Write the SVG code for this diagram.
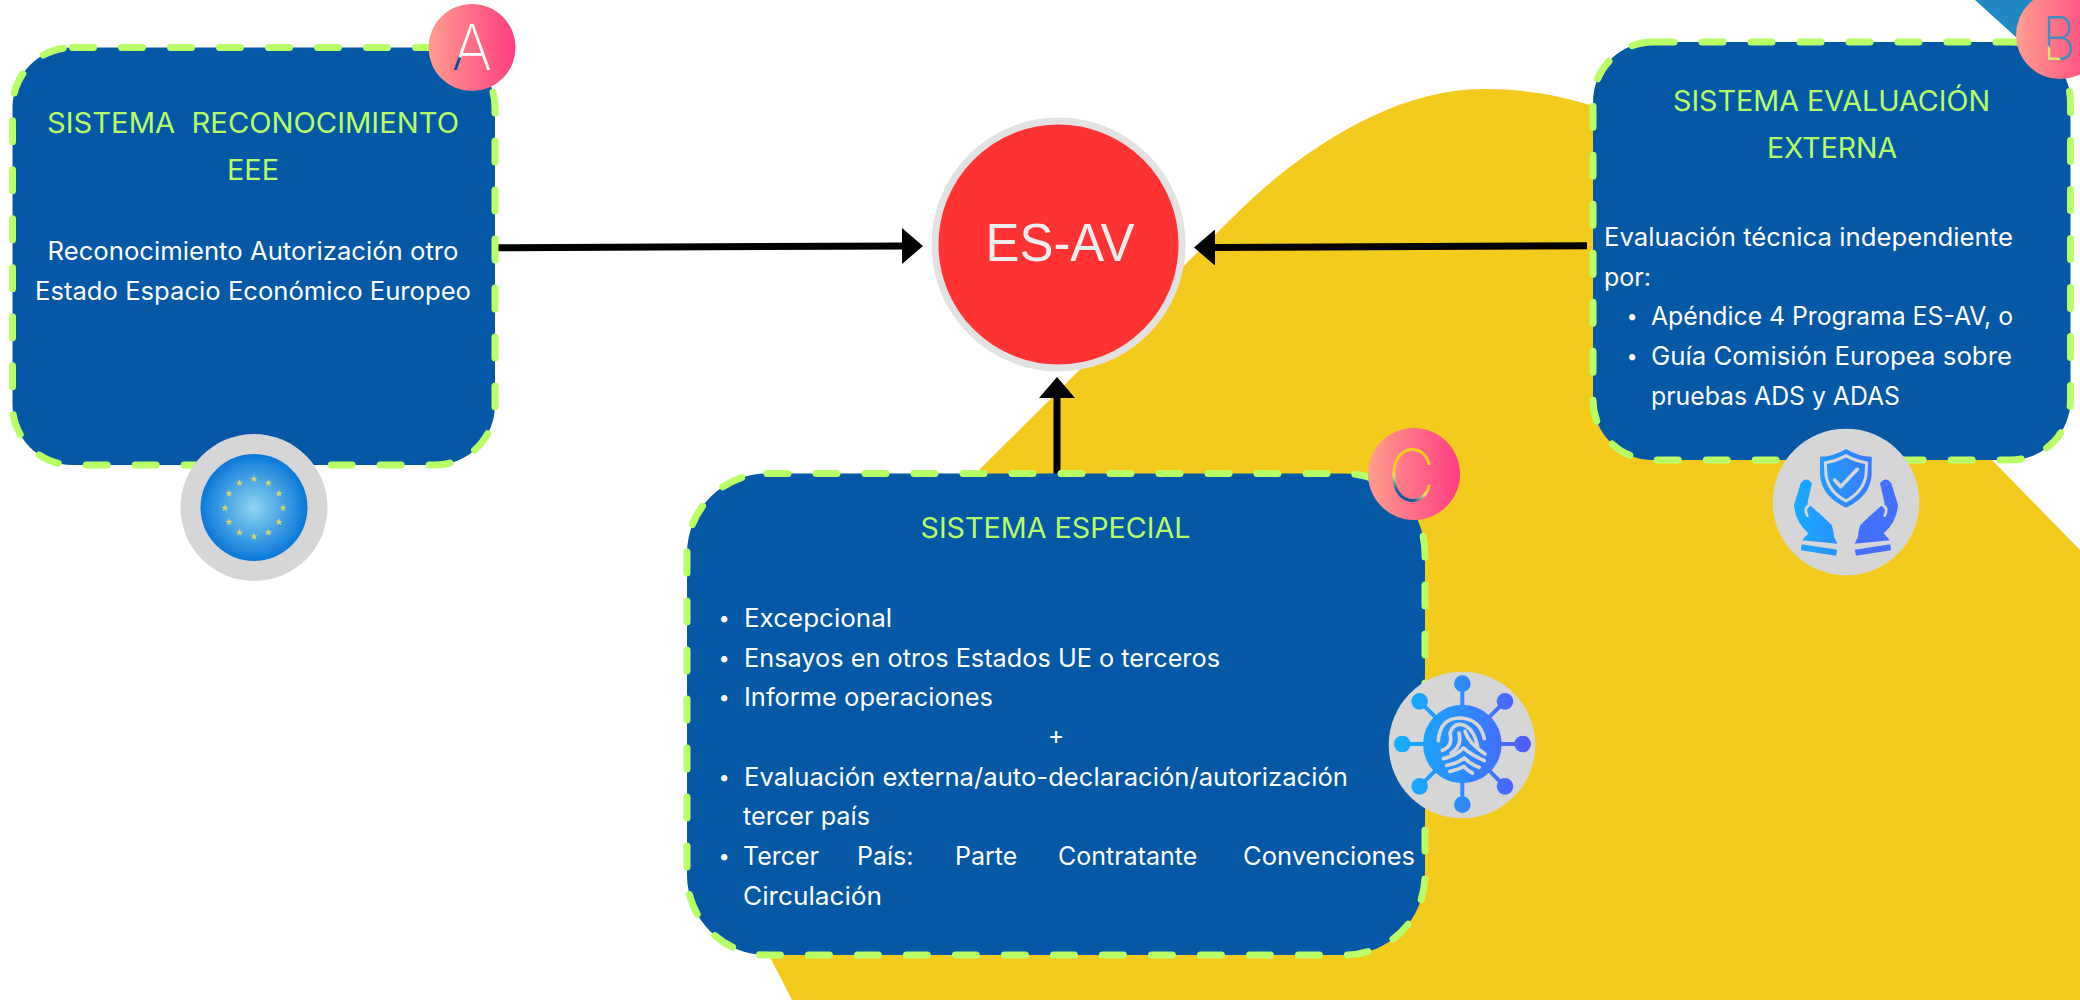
<svg xmlns="http://www.w3.org/2000/svg" width="2080" height="1000" viewBox="0 0 2080 1000">
<style>
.box{fill:#0458A6;stroke:#B9FF66;stroke-width:7;stroke-linecap:round;stroke-dasharray:21 28}
.t{font-family:"Inter","Liberation Sans",sans-serif;font-size:28px;fill:#B9FF66;text-anchor:middle}
.b{font-family:"Inter","Liberation Sans",sans-serif;font-size:25px;fill:#fff}
.d{font-family:"Inter","Liberation Sans",sans-serif;font-size:25px;fill:#fff;text-anchor:middle}
.bu{font-family:"Inter","Liberation Sans",sans-serif;font-size:20px;fill:#fff;text-anchor:middle}
.m{font-family:"Inter","Liberation Sans",sans-serif;font-weight:200;text-anchor:middle}
.arrow{stroke:#000;stroke-width:7;fill:none;marker-end:url(#head)}
.gray{fill:#D6D6D6}
.cut{fill:none;stroke:#D6D6D6;stroke-linecap:round;stroke-linejoin:round}
.link{stroke-width:12;fill:none}
</style>
<defs>
<marker id="head" markerUnits="userSpaceOnUse" markerWidth="22" markerHeight="36" refX="0" refY="18" orient="auto"><path d="M0,0 L21,18 L0,36 Z" fill="#000"/></marker>
<linearGradient id="badge" x1="0" y1="0" x2="1" y2="0"><stop offset="0" stop-color="#FF9E8E"/><stop offset="1" stop-color="#FF3D80"/></linearGradient>
<radialGradient id="eu"><stop offset="0" stop-color="#8FD6F2"/><stop offset="1" stop-color="#0A78D8"/></radialGradient>
<linearGradient id="ic" gradientUnits="userSpaceOnUse" x1="20" y1="0" x2="440" y2="0"><stop offset="0" stop-color="#10B4FF"/><stop offset=".5" stop-color="#2C8CFF"/><stop offset="1" stop-color="#5558FF"/></linearGradient>
<linearGradient id="la" gradientUnits="userSpaceOnUse" x1="462" y1="70" x2="472" y2="50"><stop offset=".42" stop-color="#0A4E94"/><stop offset=".5" stop-color="#fff"/></linearGradient>
<linearGradient id="lb" gradientUnits="userSpaceOnUse" x1="2042" y1="60" x2="2062" y2="42"><stop offset="0" stop-color="#1E5B9C"/><stop offset=".2" stop-color="#D5E86A"/><stop offset=".5" stop-color="#D5E86A"/><stop offset=".56" stop-color="#3D8EC2"/></linearGradient>
<linearGradient id="lc" gradientUnits="userSpaceOnUse" x1="1398" y1="506" x2="1420" y2="470"><stop offset=".3" stop-color="#1E5B9C"/><stop offset=".55" stop-color="#D5E86A"/><stop offset=".7" stop-color="#F4CC1E"/></linearGradient>
<path id="star" d="M0,-3.8 L1,-1.2 L3.6,-1.1 L1.6,.5 L2.2,3.1 L0,1.7 L-2.2,3.1 L-1.6,.5 L-3.6,-1.1 L-1,-1.2 Z" fill="#CFD46C"/>
</defs>
<rect width="2080" height="1000" fill="#fff"/>
<g id="background">
<path d="M979,470 L1240,210 C1310,142 1400,89 1483,89 C1525,89 1560,95 1600,108 L1992,460 L2080,550 L2080,1000 L792,1000 L770,957 Z" fill="#F2CB1D"/>
<path d="M1975,0 L2050,0 L2050,60 L2017,38 Z" fill="#2088C4"/>
</g>
<g id="connectors">
<line class="arrow" x1="497.500" y1="247.700" x2="902" y2="246"/>
<line class="arrow" x1="1587" y1="245.700" x2="1215" y2="247.500"/>
<line class="arrow" x1="1057" y1="477" x2="1057" y2="398"/>
</g>
<g id="node-esav">
<circle cx="1058.500" cy="244.500" r="123.500" fill="#FF3333" stroke="#E2E2E2" stroke-width="7"/>
<text x="1060" y="260.500" font-family="Liberation Sans,sans-serif" font-size="54" fill="#EEEEEE" text-anchor="middle" textLength="149" lengthAdjust="spacingAndGlyphs">ES-AV</text>
</g>
<g id="node-a">
<rect class="box" x="12.500" y="47.500" width="482.500" height="417.500" rx="60" ry="60"/>
<text class="t" x="253" y="133" xml:space="preserve" textLength="412" lengthAdjust="spacingAndGlyphs">SISTEMA  RECONOCIMIENTO</text>
<text class="t" x="253" y="180" textLength="52" lengthAdjust="spacingAndGlyphs">EEE</text>
<text class="d" x="253" y="260" textLength="411" lengthAdjust="spacingAndGlyphs">Reconocimiento Autorización otro</text>
<text class="d" x="253" y="300" textLength="436" lengthAdjust="spacingAndGlyphs">Estado Espacio Económico Europeo</text>
<circle cx="472" cy="47.500" r="43.500" fill="url(#badge)"/>
<text class="m" x="472" y="70" font-size="63" fill="url(#la)" textLength="40" lengthAdjust="spacingAndGlyphs">A</text>
<g id="icon-eu">
<circle cx="254" cy="507.500" r="73.500" class="gray"/>
<circle cx="254" cy="507.500" r="53.500" fill="url(#eu)"/>
<use href="#star" x="254" y="479"/><use href="#star" x="268.500" y="483"/><use href="#star" x="279" y="493.500"/><use href="#star" x="283" y="508"/><use href="#star" x="279" y="522"/><use href="#star" x="268.500" y="532.500"/><use href="#star" x="254" y="536.500"/><use href="#star" x="239.500" y="532.500"/><use href="#star" x="229" y="522"/><use href="#star" x="225" y="508"/><use href="#star" x="229" y="493.500"/><use href="#star" x="239.500" y="483"/>
</g>
</g>
<g id="node-b">
<rect class="box" x="1593" y="42" width="477.500" height="418" rx="60" ry="60"/>
<text class="t" x="1831.500" y="111" textLength="317" lengthAdjust="spacingAndGlyphs">SISTEMA EVALUACIÓN</text>
<text class="t" x="1832" y="158" textLength="130" lengthAdjust="spacingAndGlyphs">EXTERNA</text>
<text class="b" x="1604" y="246" textLength="409" lengthAdjust="spacingAndGlyphs">Evaluación técnica independiente</text>
<text class="b" x="1604" y="286" textLength="47" lengthAdjust="spacingAndGlyphs">por:</text>
<text class="bu" x="1632" y="323">•</text>
<text class="b" x="1651" y="325" textLength="362" lengthAdjust="spacingAndGlyphs">Apéndice 4 Programa ES-AV, o</text>
<text class="bu" x="1632" y="363">•</text>
<text class="b" x="1651" y="365" textLength="361" lengthAdjust="spacingAndGlyphs">Guía Comisión Europea sobre</text>
<text class="b" x="1651" y="405" textLength="249" lengthAdjust="spacingAndGlyphs">pruebas ADS y ADAS</text>
<circle cx="2060" cy="35" r="44" fill="url(#badge)"/>
<text class="m" x="2059" y="60" font-size="60" fill="url(#lb)" textLength="33" lengthAdjust="spacingAndGlyphs">B</text>
<g id="icon-hands" transform="translate(1770 425) scale(.3333)">
<circle cx="228" cy="231" r="220" class="gray"/>
<path fill="url(#ic)" d="M228,72 Q265,95 305,95 L305,150 Q300,215 228,248 Q155,215 150,150 L150,95 Q190,95 228,72Z"/>
<path class="cut" stroke-width="9" d="M228,92 Q260,110 290,113 L288,150 Q280,200 228,228 Q175,200 168,150 L166,113 Q195,110 228,92 Z"/>
<path class="cut" stroke-width="11" d="M194,165 L212,185 L262,133"/>
<g id="hand">
<path fill="url(#ic)" d="M72,240 L92,175 Q108,152 126,175 L112,235 Q150,265 185,300 Q192,320 192,335 L202,356 L96,346 L115,325 Q75,290 72,240Z"/>
<path class="cut" stroke-width="8" d="M118,240 Q100,250 112,272"/>
<path fill="url(#ic)" d="M95,358 L202,374 L198,392 L93,376Z"/>
</g>
<g transform="matrix(-1 0 0 1 456 0)">
<path fill="#4470FF" d="M72,240 L92,175 Q108,152 126,175 L112,235 Q150,265 185,300 Q192,320 192,335 L202,356 L96,346 L115,325 Q75,290 72,240Z"/>
<path class="cut" stroke-width="8" d="M118,240 Q100,250 112,272"/>
<path fill="#4470FF" d="M95,358 L202,374 L198,392 L93,376Z"/>
</g>
</g>
</g>
<g id="node-c">
<rect class="box" x="687" y="473.500" width="738" height="481.500" rx="80" ry="80"/>
<text class="t" x="1055.500" y="538" textLength="270" lengthAdjust="spacingAndGlyphs">SISTEMA ESPECIAL</text>
<text class="bu" x="724" y="625">•</text>
<text class="b" x="744" y="627" textLength="148" lengthAdjust="spacingAndGlyphs">Excepcional</text>
<text class="bu" x="724" y="665">•</text>
<text class="b" x="744" y="667" textLength="476" lengthAdjust="spacingAndGlyphs">Ensayos en otros Estados UE o terceros</text>
<text class="bu" x="724" y="704">•</text>
<text class="b" x="744" y="706" textLength="249" lengthAdjust="spacingAndGlyphs">Informe operaciones</text>
<text class="d" x="1056" y="743.500">+</text>
<text class="bu" x="724" y="783.500">•</text>
<text class="b" x="744" y="785.500" textLength="604" lengthAdjust="spacingAndGlyphs">Evaluación externa/auto-declaración/autorización</text>
<text class="b" x="743" y="825" textLength="127" lengthAdjust="spacingAndGlyphs">tercer país</text>
<text class="bu" x="724" y="863">•</text>
<text class="b" x="743" y="865">Tercer</text>
<text class="b" x="857" y="865">País:</text>
<text class="b" x="955" y="865">Parte</text>
<text class="b" x="1058" y="865">Contratante</text>
<text class="b" x="1243" y="865" textLength="172" lengthAdjust="spacingAndGlyphs">Convenciones</text>
<text class="b" x="743" y="905" textLength="139" lengthAdjust="spacingAndGlyphs">Circulación</text>
<circle cx="1414" cy="474" r="46" fill="url(#badge)"/>
<text class="m" x="1411.500" y="501" font-size="72" fill="url(#lc)" textLength="47" lengthAdjust="spacingAndGlyphs">C</text>
<g id="icon-fingerprint" transform="translate(1385 668) scale(.3333)">
<circle cx="231" cy="231" r="220" class="gray"/>
<g stroke="url(#ic)" class="link">
<path d="M232,47V410M52,228H413M104,100L360,355M360,100L104,355"/>
</g>
<circle cx="232" cy="228" r="118" fill="url(#ic)"/>
<g fill="url(#ic)"><circle cx="232" cy="47" r="25"/><circle cx="360" cy="100" r="25"/><circle cx="413" cy="228" r="25"/><circle cx="360" cy="355" r="25"/><circle cx="232" cy="410" r="25"/><circle cx="104" cy="355" r="25"/><circle cx="52" cy="228" r="25"/><circle cx="104" cy="100" r="25"/></g>
<g class="cut" stroke-width="11">
<path d="M160,218 Q165,150 225,150 Q285,152 298,212"/>
<path d="M172,247 Q205,235 195,195 Q205,165 232,170 Q265,178 278,235"/>
<path d="M198,255 Q232,235 222,195 M240,190 Q250,225 300,258"/>
<path d="M175,272 Q210,265 235,240 Q260,262 298,278"/>
<path d="M185,292 Q215,288 238,270 Q258,290 282,298"/>
<path d="M195,310 Q222,305 236,295 Q250,310 262,315"/>
</g>
</g>
</g>
</svg>
